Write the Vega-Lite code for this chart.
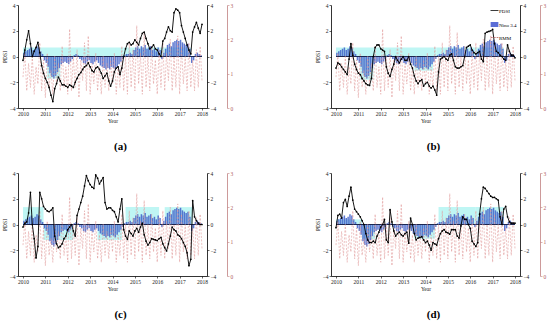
{
"$schema":"https://vega.github.io/schema/vega-lite/v6.json",
"padding":{"left":2,"top":3,"right":1,"bottom":2},
"datasets":{
"monthly":[
{"m":0,"a":-0.3,"b":-0.9,"c":-0.2,"d":-0.25,"r":0.9},
{"m":1,"a":0.5,"b":-0.5,"c":0.1,"d":0.7,"r":1.6},
{"m":2,"a":1.3,"b":-0.6,"c":0.2,"d":0.8,"r":0.5},
{"m":3,"a":2.0,"b":-0.8,"c":0.9,"d":0.5,"r":1.3},
{"m":4,"a":1.0,"b":-1.0,"c":2.5,"d":1.7,"r":0.6},
{"m":5,"a":0.0,"b":-1.2,"c":0.0,"d":1.95,"r":1.5},
{"m":6,"a":0.4,"b":-1.4,"c":-1.1,"d":1.4,"r":0.4},
{"m":7,"a":0.7,"b":-0.2,"c":-2.6,"d":2.2,"r":1.2},
{"m":8,"a":1.1,"b":1.0,"c":-1.7,"d":2.9,"r":0.7},
{"m":9,"a":0.3,"b":0.1,"c":2.5,"d":1.9,"r":1.9},
{"m":10,"a":-0.7,"b":-0.6,"c":2.0,"d":1.2,"r":0.5},
{"m":11,"a":-1.3,"b":-1.0,"c":1.4,"d":1.0,"r":1.4},
{"m":12,"a":-1.7,"b":-1.3,"c":1.2,"d":0.8,"r":0.3},
{"m":13,"a":-2.0,"b":-1.4,"c":1.05,"d":0.6,"r":1.6},
{"m":14,"a":-2.4,"b":-1.7,"c":1.0,"d":0.3,"r":0.6},
{"m":15,"a":-3.0,"b":-1.9,"c":1.1,"d":0.0,"r":1.1},
{"m":16,"a":-3.5,"b":-2.1,"c":1.3,"d":-0.7,"r":0.4},
{"m":17,"a":-2.5,"b":-2.2,"c":-0.9,"d":-1.2,"r":1.5},
{"m":18,"a":-2.1,"b":-2.25,"c":-1.5,"d":-1.4,"r":0.7},
{"m":19,"a":-1.6,"b":-1.7,"c":-1.8,"d":-1.4,"r":1.3},
{"m":20,"a":-1.9,"b":0.0,"c":-1.7,"d":-1.3,"r":0.5},
{"m":21,"a":-2.2,"b":0.7,"c":-1.5,"d":-1.4,"r":1.8},
{"m":22,"a":-2.2,"b":0.9,"c":-1.1,"d":-0.9,"r":0.6},
{"m":23,"a":-2.3,"b":0.9,"c":-0.9,"d":-0.6,"r":1.2},
{"m":24,"a":-2.4,"b":0.6,"c":-0.4,"d":-0.2,"r":0.4},
{"m":25,"a":-2.2,"b":0.5,"c":-0.2,"d":0.0,"r":2.3},
{"m":26,"a":-2.3,"b":0.4,"c":0.0,"d":0.4,"r":0.5},
{"m":27,"a":-2.4,"b":-0.8,"c":-0.5,"d":-1.2,"r":1.5},
{"m":28,"a":-2.0,"b":-1.3,"c":-0.9,"d":-1.4,"r":0.6},
{"m":29,"a":-1.7,"b":-1.55,"c":0.7,"d":1.15,"r":1.7},
{"m":30,"a":-1.4,"b":-1.0,"c":1.2,"d":0.2,"r":0.3},
{"m":31,"a":-1.25,"b":-0.6,"c":1.7,"d":-0.5,"r":1.4},
{"m":32,"a":-1.0,"b":0.0,"c":2.2,"d":-0.9,"r":0.8},
{"m":33,"a":-0.8,"b":-0.3,"c":3.0,"d":-0.7,"r":1.9},
{"m":34,"a":-0.7,"b":-0.5,"c":3.8,"d":-0.6,"r":0.5},
{"m":35,"a":-0.5,"b":-0.2,"c":3.4,"d":-0.8,"r":2.1},
{"m":36,"a":-0.8,"b":0.0,"c":3.1,"d":-0.9,"r":0.4},
{"m":37,"a":-1.1,"b":-0.3,"c":2.9,"d":-0.7,"r":1.3},
{"m":38,"a":-1.2,"b":-0.3,"c":2.8,"d":-0.6,"r":0.7},
{"m":39,"a":-0.9,"b":0.0,"c":3.85,"d":-1.45,"r":1.6},
{"m":40,"a":-0.8,"b":-0.6,"c":3.6,"d":0.5,"r":0.5},
{"m":41,"a":-1.0,"b":-0.9,"c":3.15,"d":0.0,"r":1.2},
{"m":42,"a":-1.3,"b":-1.5,"c":3.4,"d":-0.7,"r":0.4},
{"m":43,"a":-1.7,"b":-1.9,"c":3.65,"d":-1.2,"r":1.5},
{"m":44,"a":-1.5,"b":-2.1,"c":1.7,"d":-1.05,"r":0.6},
{"m":45,"a":-1.3,"b":-1.9,"c":1.2,"d":-1.0,"r":1.3},
{"m":46,"a":-1.9,"b":-1.8,"c":1.3,"d":-0.95,"r":0.5},
{"m":47,"a":-2.3,"b":-2.3,"c":1.3,"d":-1.2,"r":1.4},
{"m":48,"a":-1.9,"b":-2.1,"c":1.1,"d":-1.4,"r":0.7},
{"m":49,"a":-1.2,"b":-2.0,"c":1.0,"d":-1.3,"r":1.6},
{"m":50,"a":-0.9,"b":-2.3,"c":0.6,"d":-1.6,"r":0.4},
{"m":51,"a":-0.8,"b":-2.45,"c":0.2,"d":-2.0,"r":1.2},
{"m":52,"a":-1.4,"b":-2.3,"c":1.2,"d":-1.4,"r":0.6},
{"m":53,"a":-0.9,"b":-2.6,"c":2.0,"d":-1.5,"r":1.8},
{"m":54,"a":0.0,"b":-3.0,"c":-0.4,"d":-1.6,"r":0.5},
{"m":55,"a":0.6,"b":-1.2,"c":-0.9,"d":-1.1,"r":1.5},
{"m":56,"a":1.0,"b":-0.2,"c":-1.15,"d":-0.7,"r":0.4},
{"m":57,"a":1.1,"b":-0.1,"c":-0.5,"d":-0.5,"r":1.9},
{"m":58,"a":0.9,"b":0.0,"c":-0.7,"d":-0.4,"r":0.6},
{"m":59,"a":1.0,"b":-0.2,"c":-0.9,"d":-0.6,"r":1.7},
{"m":60,"a":1.3,"b":-0.3,"c":-0.5,"d":-0.65,"r":0.5},
{"m":61,"a":1.1,"b":0.1,"c":-0.3,"d":-0.75,"r":2.4},
{"m":62,"a":0.9,"b":0.2,"c":-0.6,"d":-0.4,"r":0.7},
{"m":63,"a":1.4,"b":-0.3,"c":-0.2,"d":-0.4,"r":1.6},
{"m":64,"a":1.8,"b":-0.8,"c":0.1,"d":-0.4,"r":0.4},
{"m":65,"a":1.9,"b":-0.9,"c":-0.8,"d":-0.9,"r":2.2},
{"m":66,"a":1.4,"b":-0.9,"c":-1.3,"d":-1.05,"r":0.6},
{"m":67,"a":1.0,"b":-0.8,"c":-1.6,"d":-0.1,"r":1.5},
{"m":68,"a":0.6,"b":-0.7,"c":-1.4,"d":0.6,"r":0.5},
{"m":69,"a":0.7,"b":0.0,"c":-1.1,"d":0.4,"r":1.8},
{"m":70,"a":0.9,"b":0.7,"c":-1.15,"d":0.4,"r":0.7},
{"m":71,"a":0.6,"b":0.8,"c":-1.2,"d":0.0,"r":1.4},
{"m":72,"a":0.5,"b":0.9,"c":-1.25,"d":-0.3,"r":0.4},
{"m":73,"a":0.2,"b":0.5,"c":-1.1,"d":-1.3,"r":1.7},
{"m":74,"a":0.0,"b":0.3,"c":-1.0,"d":-1.5,"r":0.6},
{"m":75,"a":1.2,"b":0.2,"c":-1.5,"d":-1.7,"r":1.9},
{"m":76,"a":1.4,"b":0.3,"c":-1.8,"d":-1.4,"r":0.5},
{"m":77,"a":1.9,"b":0.4,"c":-2.05,"d":0.8,"r":1.6},
{"m":78,"a":2.3,"b":-0.2,"c":-1.5,"d":2.0,"r":0.8},
{"m":79,"a":2.0,"b":-0.4,"c":-0.9,"d":2.9,"r":2.0},
{"m":80,"a":1.9,"b":1.8,"c":-0.2,"d":2.8,"r":0.5},
{"m":81,"a":3.4,"b":1.9,"c":-0.4,"d":2.6,"r":1.5},
{"m":82,"a":3.7,"b":1.95,"c":-0.5,"d":2.4,"r":0.6},
{"m":83,"a":3.6,"b":2.0,"c":-0.8,"d":2.2,"r":2.1},
{"m":84,"a":3.4,"b":2.1,"c":-0.9,"d":2.1,"r":0.4},
{"m":85,"a":2.4,"b":1.0,"c":-1.1,"d":2.1,"r":1.8},
{"m":86,"a":1.9,"b":0.4,"c":-1.4,"d":2.0,"r":0.7},
{"m":87,"a":1.4,"b":0.3,"c":-1.7,"d":1.9,"r":1.5},
{"m":88,"a":0.9,"b":0.1,"c":-2.2,"d":0.6,"r":0.5},
{"m":89,"a":0.5,"b":0.0,"c":-3.2,"d":0.0,"r":1.9},
{"m":90,"a":0.2,"b":-0.2,"c":-2.7,"d":1.2,"r":0.6},
{"m":91,"a":1.9,"b":-0.3,"c":1.85,"d":1.4,"r":1.4},
{"m":92,"a":2.3,"b":0.9,"c":0.6,"d":0.6,"r":0.5},
{"m":93,"a":2.65,"b":0.4,"c":0.3,"d":0.2,"r":1.7},
{"m":94,"a":2.2,"b":0.1,"c":0.1,"d":0.1,"r":0.6},
{"m":95,"a":1.8,"b":0.1,"c":0.0,"d":0.1,"r":1.8},
{"m":96,"a":2.5,"b":-0.1,"c":0.0,"d":0.1,"r":0.8}
],
"nino":[
{"m":0.5,"n":0.3},{"m":1.5,"n":0.4},{"m":2.5,"n":0.5},{"m":3.5,"n":0.6},{"m":4.5,"n":0.7},{"m":5.5,"n":0.5},{"m":6.5,"n":0.6},{"m":7.5,"n":0.8},{"m":8.5,"n":0.7},{"m":9.5,"n":0.4},
{"m":10.5,"n":0.2},{"m":11.5,"n":-0.3},{"m":12.5,"n":-0.5},{"m":13.5,"n":-0.8},{"m":14.5,"n":-1.3},{"m":15.5,"n":-1.6},{"m":16.5,"n":-1.7},{"m":17.5,"n":-1.5},{"m":18.5,"n":-1.2},{"m":19.5,"n":-0.9},
{"m":20.5,"n":-0.6},{"m":21.5,"n":-0.5},{"m":22.5,"n":-0.4},{"m":23.5,"n":-0.5},{"m":24.5,"n":-0.6},{"m":25.5,"n":-0.4},{"m":26.5,"n":-0.2},{"m":27.5,"n":0.1},{"m":28.5,"n":0.2},{"m":29.5,"n":0.1},
{"m":30.5,"n":-0.2},{"m":31.5,"n":-0.3},{"m":32.5,"n":-0.5},{"m":33.5,"n":-0.6},{"m":34.5,"n":-0.4},{"m":35.5,"n":-0.3},{"m":36.5,"n":-0.5},{"m":37.5,"n":-0.6},{"m":38.5,"n":-0.4},{"m":39.5,"n":-0.3},
{"m":40.5,"n":-0.5},{"m":41.5,"n":-0.7},{"m":42.5,"n":-0.8},{"m":43.5,"n":-0.9},{"m":44.5,"n":-1.0},{"m":45.5,"n":-0.9},{"m":46.5,"n":-1.0},{"m":47.5,"n":-0.8},{"m":48.5,"n":-0.9},{"m":49.5,"n":-1.0},
{"m":50.5,"n":-0.8},{"m":51.5,"n":-0.6},{"m":52.5,"n":-0.4},{"m":53.5,"n":-0.2},{"m":54.5,"n":0.1},{"m":55.5,"n":0.2},{"m":56.5,"n":0.2},{"m":57.5,"n":0.3},{"m":58.5,"n":0.2},{"m":59.5,"n":0.5},
{"m":60.5,"n":0.7},{"m":61.5,"n":0.8},{"m":62.5,"n":0.6},{"m":63.5,"n":0.8},{"m":64.5,"n":0.7},{"m":65.5,"n":0.9},{"m":66.5,"n":0.6},{"m":67.5,"n":0.7},{"m":68.5,"n":0.8},{"m":69.5,"n":0.5},
{"m":70.5,"n":0.6},{"m":71.5,"n":0.4},{"m":72.5,"n":0.7},{"m":73.5,"n":0.5},{"m":74.5,"n":-0.2},{"m":75.5,"n":0.3},{"m":76.5,"n":0.6},{"m":77.5,"n":0.9},{"m":78.5,"n":1.0},{"m":79.5,"n":0.8},
{"m":80.5,"n":1.1},{"m":81.5,"n":1.2},{"m":82.5,"n":1.3},{"m":83.5,"n":1.2},{"m":84.5,"n":1.3},{"m":85.5,"n":1.1},{"m":86.5,"n":1.0},{"m":87.5,"n":0.9},{"m":88.5,"n":1.0},{"m":89.5,"n":0.6},
{"m":90.5,"n":-0.5},{"m":91.5,"n":-0.3},{"m":92.5,"n":0.2},{"m":93.5,"n":0.3},{"m":94.5,"n":0.2},{"m":95.5,"n":0.1}
],
"rects":[
{"p":"a","m":0,"m1":54,"v":0.7},{"p":"a","m":13,"m1":20,"v":-1.7},{"p":"a","m":54,"m1":90,"v":0.7},
{"p":"b","m":0,"m1":54,"v":0.7},{"p":"b","m":13,"m1":20,"v":-1.8},{"p":"b","m":42,"m1":52,"v":-1.1},{"p":"b","m":54,"m1":90,"v":0.7},
{"p":"c","m":0,"m1":11,"v":1.35},{"p":"c","m":11,"m1":27,"v":-1.2},{"p":"c","m":40,"m1":53,"v":-1.2},{"p":"c","m":55,"m1":73,"v":1.35},{"p":"c","m":76,"m1":91,"v":1.35},
{"p":"d","m":0,"m1":14,"v":0.4},{"p":"d","m":14,"m1":21,"v":-1.15},{"p":"d","m":42,"m1":53,"v":-1.1},{"p":"d","m":55,"m1":75,"v":1.36},{"p":"d","m":75,"m1":90,"v":1.36}
],
"leg":[{"s":"PDSI"},{"s":"Nino 3.4"},{"s":"RMM"}]
},
"spacing":19,
"vconcat":[
{"hconcat":[
{"width":189,"height":103,"title":{"text":"(a)","orient":"bottom","offset":17,"dx":8},
"resolve":{"scale":{"y":"independent"}},
"encoding":{"x":{"field":"m","type":"quantitative","scale":{"domain":[0,96],"nice":false},"title":"Year","axis":{"values":[0,12,24,36,48,60,72,84,96],"labelExpr":"2010 + datum.value/12","labelOverlap":false}}},
"layer":[
{"data":{"name":"rects"},"transform":[{"filter":"datum.p==='a'"}],"mark":{"type":"rect","color":"#bff6f4"},
"encoding":{"x2":{"field":"m1"},"y":{"field":"v","type":"quantitative","scale":{"domain":[-4,4]},"axis":null},"y2":{"datum":0}}},
{"data":{"name":"nino"},"mark":{"type":"bar","size":1.5,"color":"#3f5fc8","opacity":0.85},
"encoding":{"y":{"field":"n","type":"quantitative","scale":{"domain":[-4,4]},"axis":{"orient":"right","values":[-4,-2,0,2,4],"title":null}}}},
{"data":{"name":"monthly"},"mark":{"type":"line","color":"#1c2650","strokeWidth":1.2},"encoding":{"y":{"datum":0,"scale":{"domain":[-4,4]},"axis":null}}},
{"data":{"name":"monthly"},"mark":{"type":"line","color":"#e09a9a","strokeWidth":0.6,"strokeDash":[2,1.5]},
"encoding":{"y":{"field":"r","type":"quantitative","scale":{"domain":[0,3]},"axis":{"orient":"right","offset":20,"values":[0,1,2,3],"title":null,"domainColor":"#c08080","tickColor":"#c08080","labelColor":"#b06060"}}}},
{"data":{"name":"monthly"},"mark":{"type":"line","color":"black","strokeWidth":0.9,"point":{"filled":true,"size":3,"color":"black"}},
"encoding":{"y":{"field":"a","type":"quantitative","scale":{"domain":[-4,4]},"axis":{"orient":"left","values":[-4,-2,0,2,4],"title":"PDSI"}}}}
]},
{"width":189,"height":103,"title":{"text":"(b)","orient":"bottom","offset":17,"dx":8},
"resolve":{"scale":{"y":"independent","color":"independent"},"legend":{"color":"independent"}},
"encoding":{"x":{"field":"m","type":"quantitative","scale":{"domain":[0,96],"nice":false},"title":"Year","axis":{"values":[0,12,24,36,48,60,72,84,96],"labelExpr":"2010 + datum.value/12","labelOverlap":false}}},
"layer":[
{"data":{"name":"rects"},"transform":[{"filter":"datum.p==='b'"}],"mark":{"type":"rect","color":"#bff6f4"},
"encoding":{"x2":{"field":"m1"},"y":{"field":"v","type":"quantitative","scale":{"domain":[-4,4]},"axis":null},"y2":{"datum":0}}},
{"data":{"name":"nino"},"mark":{"type":"bar","size":1.5,"color":"#3f5fc8","opacity":0.85},
"encoding":{"y":{"field":"n","type":"quantitative","scale":{"domain":[-4,4]},"axis":{"orient":"right","values":[-4,-2,0,2,4],"title":null}}}},
{"data":{"name":"monthly"},"mark":{"type":"line","color":"#1c2650","strokeWidth":1.2},"encoding":{"y":{"datum":0,"scale":{"domain":[-4,4]},"axis":null}}},
{"data":{"name":"monthly"},"mark":{"type":"line","color":"#e09a9a","strokeWidth":0.6,"strokeDash":[2,1.5]},
"encoding":{"y":{"field":"r","type":"quantitative","scale":{"domain":[0,3]},"axis":{"orient":"right","offset":20,"values":[0,1,2,3],"title":null,"domainColor":"#c08080","tickColor":"#c08080","labelColor":"#b06060"}}}},
{"data":{"name":"monthly"},"mark":{"type":"line","color":"black","strokeWidth":0.9,"point":{"filled":true,"size":3,"color":"black"}},
"encoding":{"y":{"field":"b","type":"quantitative","scale":{"domain":[-4,4]},"axis":{"orient":"left","values":[-4,-2,0,2,4],"title":"PDSI"}}}},
{"data":{"name":"leg"},"mark":{"type":"line","opacity":0},
"encoding":{"color":{"field":"s","type":"nominal","scale":{"domain":["PDSI","Nino 3.4","RMM"],"range":["black","#5b6dd6","#c07a7a"]},
"legend":{"orient":"top-right","title":null,"offset":2,"padding":1,"rowPadding":0,"labelFontSize":5,"labelFont":"Liberation Serif","labelOffset":2,"symbolType":"stroke","symbolSize":60,"symbolOpacity":1,"symbolStrokeWidth":1,
"encode":{"symbols":{"update":{"strokeWidth":{"signal":"datum.value==='Nino 3.4' ? 5 : 1"},"strokeDash":{"signal":"datum.value==='RMM' ? [2,1] : [1,0]"}}}}}}}}
]}
],"spacing":82},
{"hconcat":[
{"width":189,"height":103,"title":{"text":"(c)","orient":"bottom","offset":17,"dx":8},
"resolve":{"scale":{"y":"independent"}},
"encoding":{"x":{"field":"m","type":"quantitative","scale":{"domain":[0,96],"nice":false},"title":"Year","axis":{"values":[0,12,24,36,48,60,72,84,96],"labelExpr":"2010 + datum.value/12","labelOverlap":false}}},
"layer":[
{"data":{"name":"rects"},"transform":[{"filter":"datum.p==='c'"}],"mark":{"type":"rect","color":"#bff6f4"},
"encoding":{"x2":{"field":"m1"},"y":{"field":"v","type":"quantitative","scale":{"domain":[-4,4]},"axis":null},"y2":{"datum":0}}},
{"data":{"name":"nino"},"mark":{"type":"bar","size":1.5,"color":"#3f5fc8","opacity":0.85},
"encoding":{"y":{"field":"n","type":"quantitative","scale":{"domain":[-4,4]},"axis":{"orient":"right","values":[-4,-2,0,2,4],"title":null}}}},
{"data":{"name":"monthly"},"mark":{"type":"line","color":"#1c2650","strokeWidth":1.2},"encoding":{"y":{"datum":0,"scale":{"domain":[-4,4]},"axis":null}}},
{"data":{"name":"monthly"},"mark":{"type":"line","color":"#e09a9a","strokeWidth":0.6,"strokeDash":[2,1.5]},
"encoding":{"y":{"field":"r","type":"quantitative","scale":{"domain":[0,3]},"axis":{"orient":"right","offset":20,"values":[0,1,2,3],"title":null,"domainColor":"#c08080","tickColor":"#c08080","labelColor":"#b06060"}}}},
{"data":{"name":"monthly"},"mark":{"type":"line","color":"black","strokeWidth":0.9,"point":{"filled":true,"size":3,"color":"black"}},
"encoding":{"y":{"field":"c","type":"quantitative","scale":{"domain":[-4,4]},"axis":{"orient":"left","values":[-4,-2,0,2,4],"title":"PDSI"}}}}
]},
{"width":189,"height":103,"title":{"text":"(d)","orient":"bottom","offset":17,"dx":8},
"resolve":{"scale":{"y":"independent"}},
"encoding":{"x":{"field":"m","type":"quantitative","scale":{"domain":[0,96],"nice":false},"title":"Year","axis":{"values":[0,12,24,36,48,60,72,84,96],"labelExpr":"2010 + datum.value/12","labelOverlap":false}}},
"layer":[
{"data":{"name":"rects"},"transform":[{"filter":"datum.p==='d'"}],"mark":{"type":"rect","color":"#bff6f4"},
"encoding":{"x2":{"field":"m1"},"y":{"field":"v","type":"quantitative","scale":{"domain":[-4,4]},"axis":null},"y2":{"datum":0}}},
{"data":{"name":"nino"},"mark":{"type":"bar","size":1.5,"color":"#3f5fc8","opacity":0.85},
"encoding":{"y":{"field":"n","type":"quantitative","scale":{"domain":[-4,4]},"axis":{"orient":"right","values":[-4,-2,0,2,4],"title":null}}}},
{"data":{"name":"monthly"},"mark":{"type":"line","color":"#1c2650","strokeWidth":1.2},"encoding":{"y":{"datum":0,"scale":{"domain":[-4,4]},"axis":null}}},
{"data":{"name":"monthly"},"mark":{"type":"line","color":"#e09a9a","strokeWidth":0.6,"strokeDash":[2,1.5]},
"encoding":{"y":{"field":"r","type":"quantitative","scale":{"domain":[0,3]},"axis":{"orient":"right","offset":20,"values":[0,1,2,3],"title":null,"domainColor":"#c08080","tickColor":"#c08080","labelColor":"#b06060"}}}},
{"data":{"name":"monthly"},"mark":{"type":"line","color":"black","strokeWidth":0.9,"point":{"filled":true,"size":3,"color":"black"}},
"encoding":{"y":{"field":"d","type":"quantitative","scale":{"domain":[-4,4]},"axis":{"orient":"left","values":[-4,-2,0,2,4],"title":"PDSI"}}}}
]}
],"spacing":82}
],
"config":{
"view":{"stroke":null},
"font":"Liberation Serif",
"axis":{"grid":false,"labelOverlap":false,"labelFontSize":5.5,"titleFontSize":5.5,"titleFontWeight":"normal","tickSize":2,"domainColor":"black","tickColor":"black","labelColor":"#222","labelPadding":1,"titlePadding":2,"domainWidth":0.8,"tickWidth":0.6,"titleColor":"#222"},
"axisX":{"labelOverlap":false},
"title":{"font":"Liberation Serif","fontSize":11,"fontWeight":"bold","color":"black"}
}
}
